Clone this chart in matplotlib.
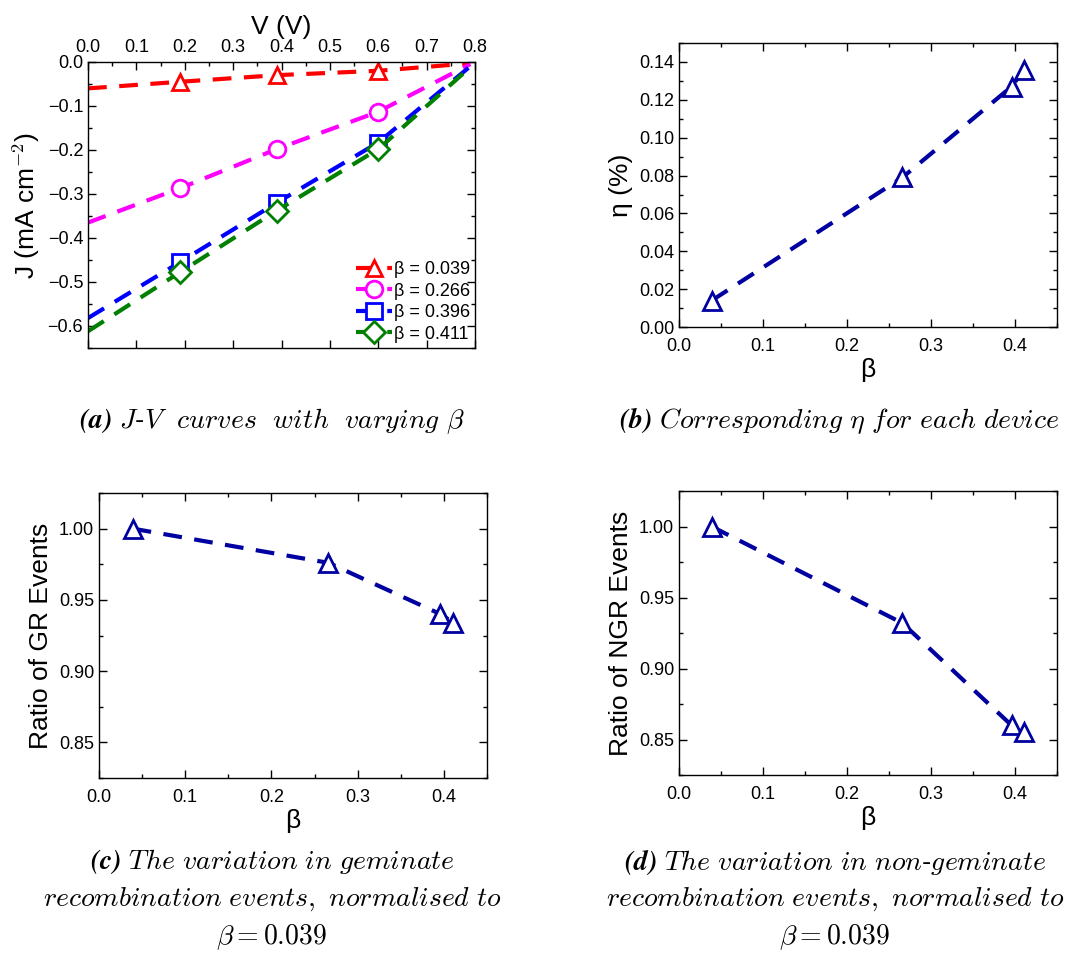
import numpy as np
import matplotlib
matplotlib.use("Agg")
import matplotlib.pyplot as plt
from matplotlib.ticker import MultipleLocator, FormatStrFormatter

plt.rcParams['font.family'] = ['Liberation Sans', 'DejaVu Sans']
plt.rcParams['mathtext.fontset'] = 'cm'

# J-V data
voltage = [0.0, 0.19, 0.39, 0.60, 0.79]
jv_labels = ["β = 0.039", "β = 0.266", "β = 0.396", "β = 0.411"]
j_039 = [-0.060, -0.045, -0.030, -0.020, -0.003]
j_266 = [-0.365, -0.287, -0.198, -0.113, -0.005]
j_396 = [-0.582, -0.455, -0.320, -0.183, -0.010]
j_411 = [-0.612, -0.478, -0.338, -0.198, -0.012]

# per-device values
beta = [0.039, 0.266, 0.396, 0.411]
eta = [0.014, 0.079, 0.127, 0.136]
gr_ratio = [1.000, 0.976, 0.940, 0.934]
ngr_ratio = [1.000, 0.932, 0.860, 0.855]

navy = '#0000a0'
lab_fs = 19
tick_fs = 13


def style_axes(ax):
    ax.tick_params(which='both', direction='in', top=True, right=True, labelsize=tick_fs)
    ax.tick_params(which='major', length=6, width=1)
    ax.tick_params(which='minor', length=3, width=1)
    ax.tick_params(axis='x', pad=8)
    for s in ax.spines.values():
        s.set_linewidth(1)


def beta_plot(ax, y, ylabel):
    ax.plot(beta, y, color=navy, lw=3, dashes=(4.5, 3),
            marker='^', ms=13, mfc='white', mec=navy, mew=2)
    ax.set_xlim(0, 0.45)
    ax.xaxis.set_major_locator(MultipleLocator(0.1))
    ax.xaxis.set_minor_locator(MultipleLocator(0.05))
    ax.set_xlabel("β", fontsize=lab_fs, labelpad=2)
    ax.set_ylabel(ylabel, fontsize=lab_fs)
    style_axes(ax)


fig = plt.figure(figsize=(10.76, 9.61), dpi=100)

# (a)
ax_a = fig.add_axes([0.0818, 0.6379, 0.3597, 0.2976])
series = [j_039, j_266, j_396, j_411]
colors = ['#ff0000', '#ff00ff', '#0000ff', '#008000']
markers = ['^', 'o', 's', 'D']
for j, c, m, lab in zip(series, colors, markers, jv_labels):
    ax_a.plot(voltage, j, color=c, lw=3, dashes=(4.5, 3), marker=m,
              markevery=[1, 2, 3], ms=12 if m != 'D' else 11,
              mfc='white', mec=c, mew=2, label=lab)
ax_a.set_xlim(0, 0.8)
ax_a.set_ylim(-0.65, 0)
ax_a.xaxis.set_major_locator(MultipleLocator(0.1))
ax_a.xaxis.set_minor_locator(MultipleLocator(0.05))
ax_a.yaxis.set_major_locator(MultipleLocator(0.1))
ax_a.yaxis.set_minor_locator(MultipleLocator(0.05))
ax_a.xaxis.tick_top()
ax_a.xaxis.set_label_position('top')
style_axes(ax_a)
ax_a.tick_params(axis='x', pad=4)
ax_a.tick_params(labelbottom=False, labeltop=True, bottom=True)
ax_a.set_xlabel("V (V)", fontsize=lab_fs)
ax_a.set_ylabel("J (mA cm$^{-2}$)", fontsize=lab_fs)
ax_a.legend(loc='lower right', frameon=False, fontsize=13, handlelength=2.0,
            handletextpad=0.1, borderaxespad=0.1, labelspacing=0.25,
            borderpad=0.2)

# (b)
ax_b = fig.add_axes([0.6310, 0.6597, 0.3513, 0.2955])
beta_plot(ax_b, eta, "η (%)")
ax_b.set_ylim(0, 0.15)
ax_b.yaxis.set_major_locator(MultipleLocator(0.02))
ax_b.yaxis.set_minor_locator(MultipleLocator(0.01))
ax_b.yaxis.set_major_formatter(FormatStrFormatter('%.2f'))

# (c)
ax_c = fig.add_axes([0.0920, 0.1904, 0.3606, 0.2966])
beta_plot(ax_c, gr_ratio, "Ratio of GR Events")

# (d)
ax_d = fig.add_axes([0.6310, 0.1935, 0.3513, 0.2955])
beta_plot(ax_d, ngr_ratio, "Ratio of NGR Events")

for ax in (ax_c, ax_d):
    ax.set_ylim(0.825, 1.025)
    ax.yaxis.set_major_locator(MultipleLocator(0.05))
    ax.yaxis.set_minor_locator(MultipleLocator(0.025))
    ax.yaxis.set_major_formatter(FormatStrFormatter('%.2f'))

cap = 20
fig.text(272 / 1076, 1 - 421 / 961,
         r"$\mathbfit{(a)}\ \mathit{J}$-$\mathit{V\ \ curves\ \ with\ \ varying}\ \beta$",
         ha='center', va='center', fontsize=cap)
fig.text(839 / 1076, 1 - 421 / 961,
         r"$\mathbfit{(b)}\ \mathit{Corresponding}\ \eta\ \mathit{for\ each\ device}$",
         ha='center', va='center', fontsize=cap)
captions = [
    (272, r"$\mathbfit{(c)}\ \mathit{The\ variation\ in\ geminate}$"),
    (835, r"$\mathbfit{(d)}\ \mathit{The\ variation\ in\ non}$-$\mathit{geminate}$"),
]
for xc, line1 in captions:
    fig.text(xc / 1076, 1 - 862 / 961, line1, ha='center', va='center', fontsize=cap)
    fig.text(xc / 1076, 1 - 899 / 961,
             r"$\mathit{recombination\ events,\ normalised\ to}$",
             ha='center', va='center', fontsize=cap)
    fig.text(xc / 1076, 1 - 937 / 961, r"$\beta = 0.039$",
             ha='center', va='center', fontsize=cap)

fig.savefig("out.png", dpi=100)
